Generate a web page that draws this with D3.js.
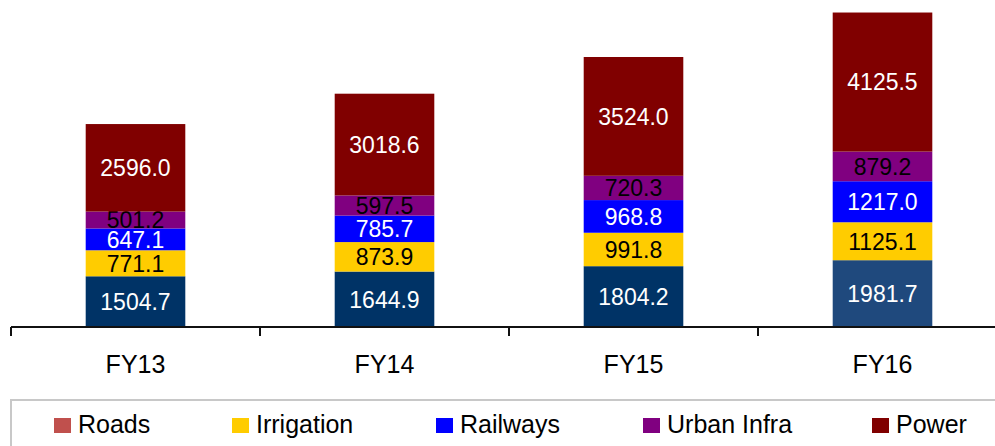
<!DOCTYPE html>
<html>
<head>
	<meta charset="utf-8" />
	<title>Infrastructure spend by sector</title>
	<script src="https://cdn.jsdelivr.net/npm/d3@7"></script>
</head>
<style>
	body {
		margin: 0;
		background: #fff;
		font-family: 'Liberation Sans', Arial, sans-serif;
	}
	.vlabel {
		font-size: 23px;
		text-anchor: middle;
	}
	.xlabel {
		font-size: 25px;
		text-anchor: middle;
	}
	.legend text {
		font-size: 25px;
	}
</style>
<body>
	<script>
		var width = 995;
		var height = 446;

		// data
		var years = ["FY13", "FY14", "FY15", "FY16"];
		var sectors = ["Roads", "Irrigation", "Railways", "Urban Infra", "Power"];
		var roads = [1504.7, 1644.9, 1804.2, 1981.7];
		var irrigation = [771.1, 873.9, 991.8, 1125.1];
		var railways = [647.1, 785.7, 968.8, 1217.0];
		var urban = [501.2, 597.5, 720.3, 879.2];
		var power = [2596.0, 3018.6, 3524.0, 4125.5];

		var seriesValues = [roads, irrigation, railways, urban, power];
		var colors = ["#C0504D", "#FFCC00", "#0000FF", "#800080", "#800000"];
		var barColors = ["#003366", "#FFCC00", "#0000FF", "#800080", "#800000"];
		var textColors = ["#fff", "#000", "#fff", "#000", "#fff"];

		var rows = years.map(function(y, i) {
			var r = { year: y };
			sectors.forEach(function(s, j) { r[s] = seriesValues[j][i]; });
			return r;
		});

		var svg = d3.select("body")
			.append("svg")
			.attr("width", width)
			.attr("height", height);

		var baseY = 327;
		var x = d3.scaleBand().domain(years).range([11, 1007]).padding(0);
		var y = d3.scaleLinear().domain([0, 9700]).range([baseY, 0]);
		var barW = x.bandwidth() * 0.4;

		var stacked = d3.stack().keys(sectors)(rows);

		var layers = svg.append("g")
			.selectAll("g")
			.data(stacked)
			.enter().append("g");

		layers.selectAll("rect")
			.data(function(d) { return d; })
			.enter().append("rect")
			.attr("x", function(d) { return x(d.data.year) + (x.bandwidth() - barW) / 2; })
			.attr("width", barW)
			.attr("y", function(d) { return y(d[1]); })
			.attr("height", function(d) { return y(d[0]) - y(d[1]); })
			.attr("fill", function(d, i) {
				var k = this.parentNode.__data__.index;
				// last roads bar is drawn in a lighter blue
				if (k === 0 && i === years.length - 1) return "#1F497D";
				return barColors[k];
			});

		layers.selectAll("text")
			.data(function(d) { return d; })
			.enter().append("text")
			.attr("class", "vlabel")
			.attr("x", function(d) { return x(d.data.year) + x.bandwidth() / 2; })
			.attr("y", function(d) { return (y(d[0]) + y(d[1])) / 2; })
			.attr("dy", "0.36em")
			.attr("fill", function() { return textColors[this.parentNode.__data__.index]; })
			.text(function(d) { return (d[1] - d[0]).toFixed(1); });

		// x axis
		var axis = svg.append("g");
		axis.append("line")
			.attr("x1", 11).attr("x2", width)
			.attr("y1", baseY).attr("y2", baseY)
			.attr("stroke", "#111").attr("stroke-width", 2);
		axis.selectAll(".tick")
			.data(years)
			.enter().append("line")
			.attr("x1", function(d) { return x(d); })
			.attr("x2", function(d) { return x(d); })
			.attr("y1", baseY).attr("y2", baseY + 9)
			.attr("stroke", "#111").attr("stroke-width", 2);
		axis.selectAll("text")
			.data(years)
			.enter().append("text")
			.attr("class", "xlabel")
			.attr("x", function(d) { return x(d) + x.bandwidth() / 2; })
			.attr("y", 373)
			.text(function(d) { return d; });

		// legend
		var legend = svg.append("g").attr("class", "legend");
		legend.append("rect")
			.attr("x", 11).attr("y", 400)
			.attr("width", 1000).attr("height", 60)
			.attr("fill", "none")
			.attr("stroke", "#c8c8c8").attr("stroke-width", 2);
		var legendX = [54, 232, 436, 643, 872];
		var item = legend.selectAll(".item")
			.data(sectors)
			.enter().append("g")
			.attr("transform", function(d, i) { return "translate(" + legendX[i] + ",418)"; });
		item.append("rect")
			.attr("width", 17).attr("height", 15)
			.attr("fill", function(d, i) { return colors[i]; });
		item.append("text")
			.attr("x", 24).attr("y", 15)
			.text(function(d) { return d; });
	</script>
</body>
</html>
